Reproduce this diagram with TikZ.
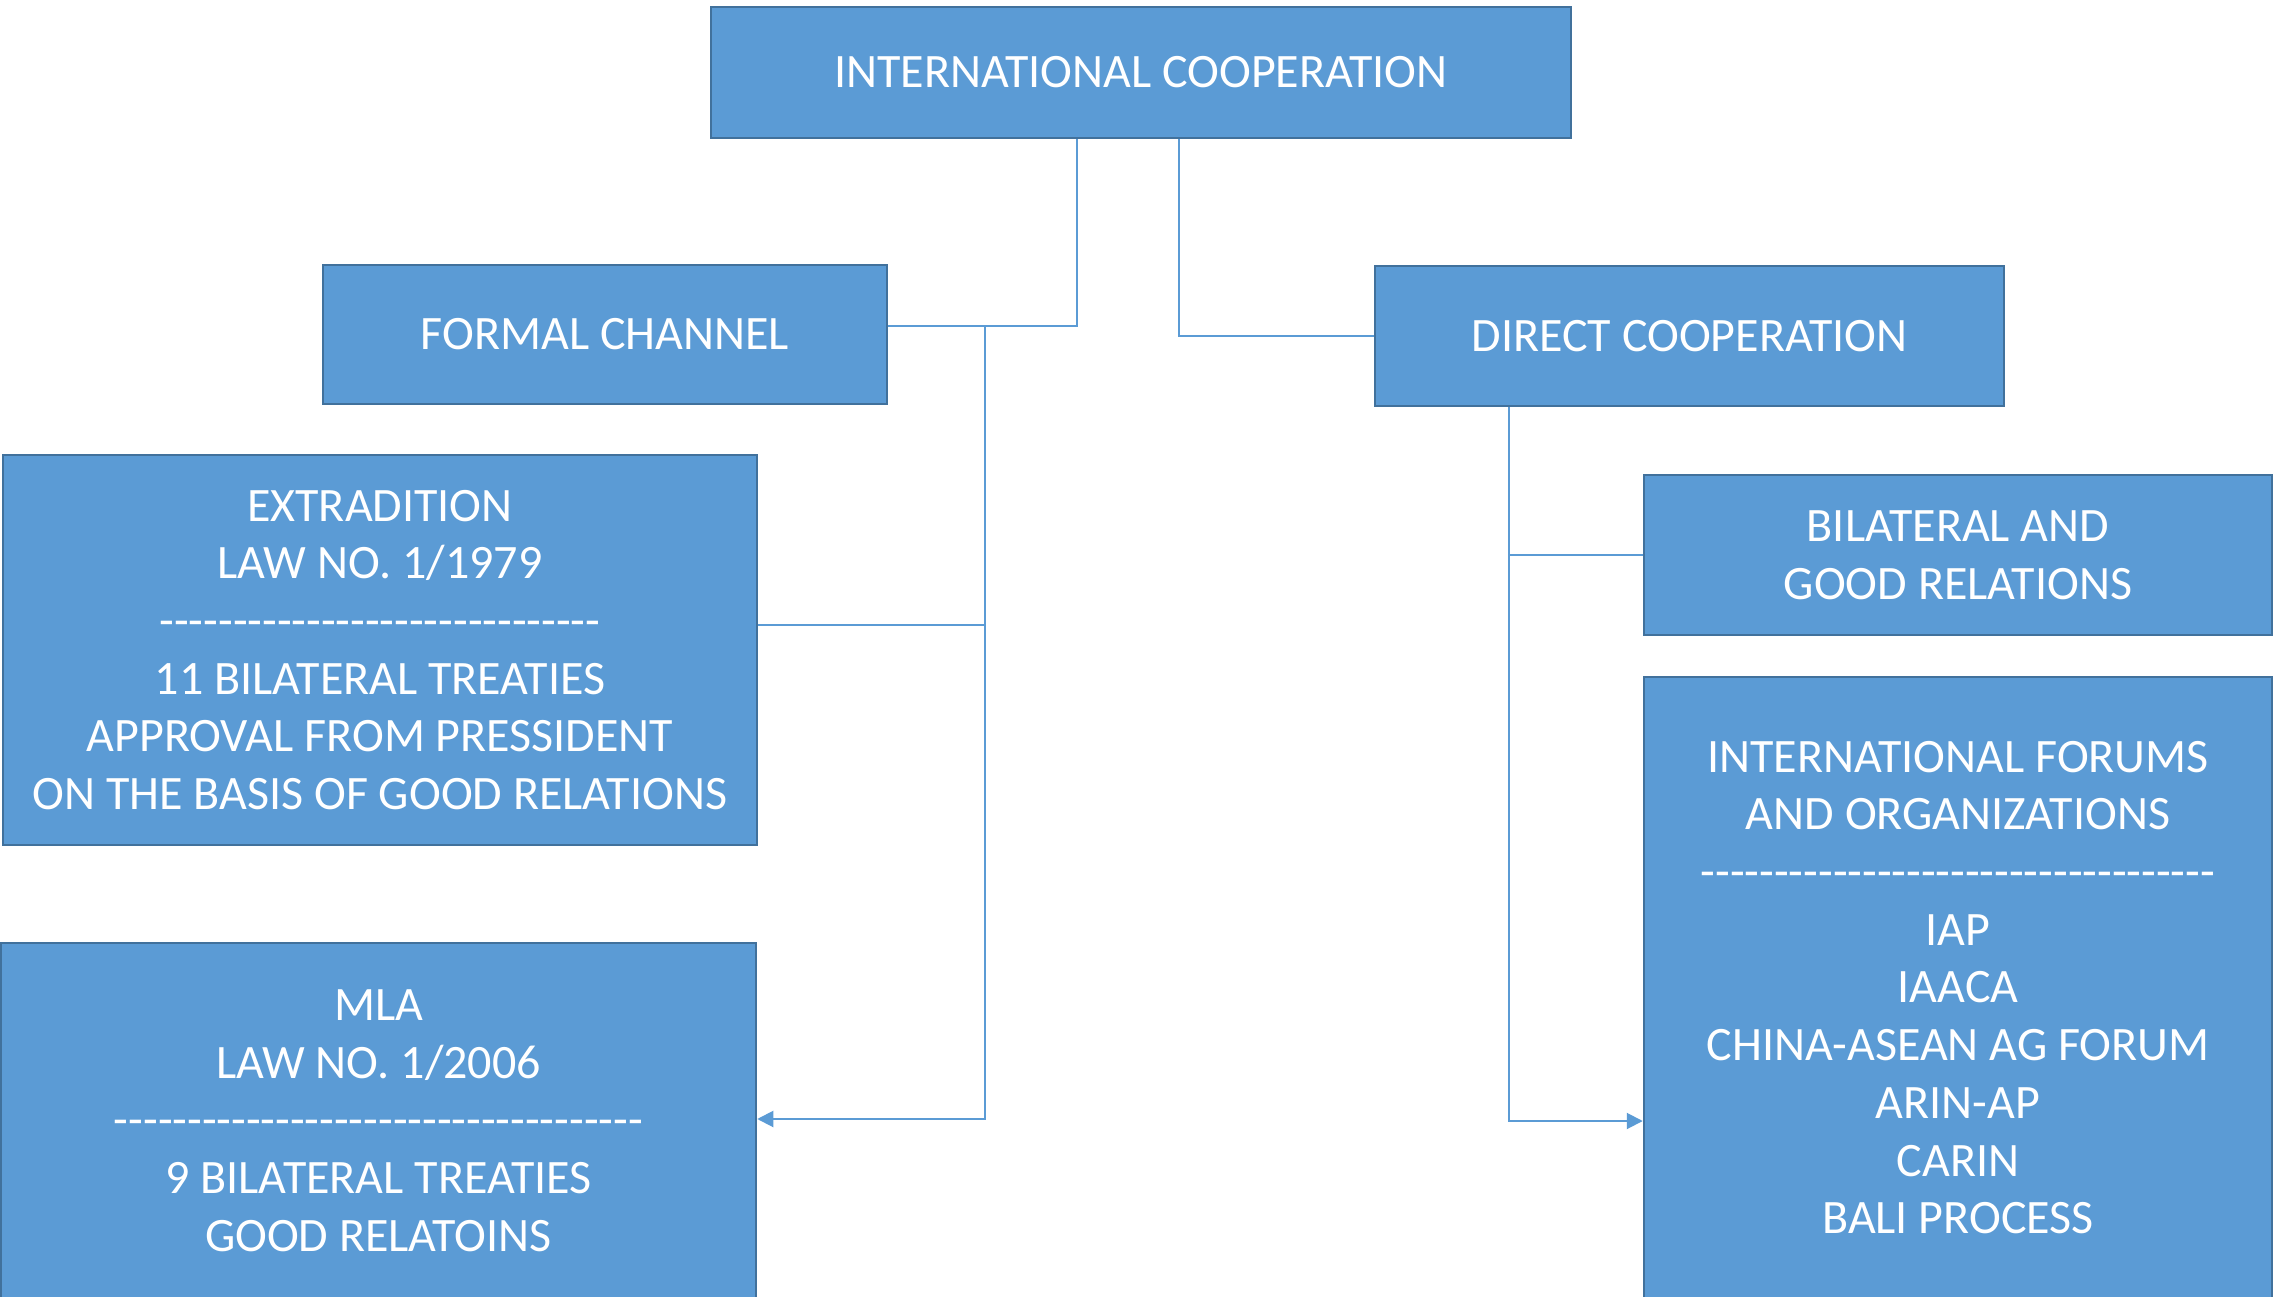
\documentclass[tikz,border=0pt]{standalone}
\usepackage{fontspec}
\setmainfont{Carlito}
\usetikzlibrary{arrows.meta}
\definecolor{boxfill}{HTML}{5B9BD5}
\definecolor{boxedge}{HTML}{41719C}
\definecolor{linkc}{HTML}{5B9BD5}
\newcount\myhycount
\newcommand\hyrow[1]{\myhycount=0 \loop\ifnum\myhycount<#1 \mbox{-}\advance\myhycount 1 \repeat}
\begin{document}
\begin{tikzpicture}[x=1pt,y=-1pt,
  boxnode/.style={draw=boxedge, line width=2.5pt, fill=boxfill, text=white, align=center, inner sep=0pt,
    font=\fontsize{48}{57.7}\selectfont},
  link/.style={draw=linkc, line width=2pt},
  arr/.style={link, -{Triangle[length=16pt,width=16pt]}}]
\useasboundingbox (0,0) rectangle (2279,1297);
\node[boxnode, minimum width=860, minimum height=131] (top) at (1141,72.5) {INTERNATIONAL COOPERATION};
\node[boxnode, minimum width=564, minimum height=139] (formal) at (605,334.5) {FORMAL CHANNEL};
\node[boxnode, minimum width=629, minimum height=140] (direct) at (1689.5,336) {DIRECT COOPERATION};
\node[boxnode, minimum width=754, minimum height=390] (extr) at (380,650) {EXTRADITION\\LAW NO. 1/1979\\\hyrow{30}\\11 BILATERAL TREATIES\\APPROVAL FROM PRESSIDENT\\ON THE BASIS OF GOOD RELATIONS};
\node[boxnode, minimum width=755, minimum height=355] (mla) at (378.5,1120.5) {MLA\\LAW NO. 1/2006\\\hyrow{36}\\9 BILATERAL TREATIES\\GOOD RELATOINS};
\node[boxnode, minimum width=628, minimum height=160] (bil) at (1958,555) {BILATERAL AND\\GOOD RELATIONS};
\node[boxnode, minimum width=628, minimum height=621] (intl) at (1958,987.5) {INTERNATIONAL FORUMS\\AND ORGANIZATIONS\\\hyrow{35}\\IAP\\IAACA\\CHINA-ASEAN AG FORUM\\ARIN-AP\\CARIN\\BALI PROCESS};
\coordinate (j1) at (1077,326);
\coordinate (j2) at (985,326);
\coordinate (j3) at (985,1119);
\coordinate (j4) at (985,625);
\coordinate (k1) at (1179,336);
\coordinate (k2) at (1509,1121);
\coordinate (k3) at (1509,555);
\draw[link] (j1 |- top.south) -- (j1) -- (j1 -| formal.east);
\draw[arr] (j2) -- (j3) -- (j3 -| mla.east);
\draw[link] (j4 -| extr.east) -- (j4);
\draw[link] (k1 |- top.south) -- (k1) -- (k1 -| direct.west);
\draw[arr] (k2 |- direct.south) -- (k2) -- (k2 -| intl.west);
\draw[link] (k3) -- (k3 -| bil.west);
\end{tikzpicture}
\end{document}
